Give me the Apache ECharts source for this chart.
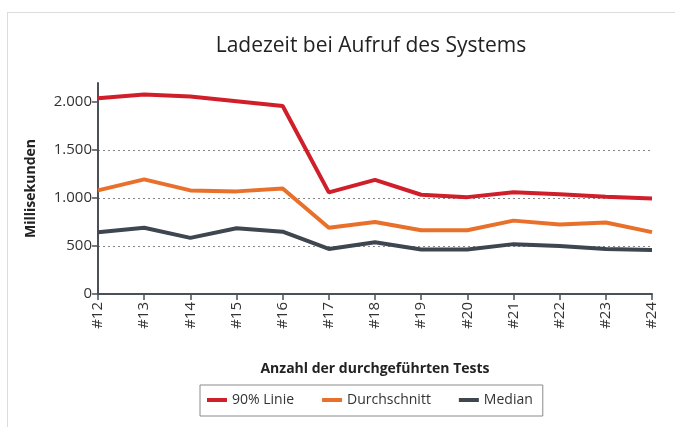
<!DOCTYPE html>
<html>
<head>
<meta charset="utf-8">
<script src="https://cdn.jsdelivr.net/npm/echarts@6/dist/echarts.min.js"></script>
<style>
html,body{margin:0;padding:0;background:#fff;}
#frame{position:absolute;left:7px;top:12px;width:700px;height:440px;border-left:1.5px solid #dcdcdc;border-top:1.5px solid #dcdcdc;}
#chart{position:absolute;left:0;top:0;width:675px;height:427px;}
</style>
</head>
<body>
<div id="frame"></div>
<div id="chart"></div>
<script>
const categories = ['#12','#13','#14','#15','#16','#17','#18','#19','#20','#21','#22','#23','#24'];
const linie90 = [2040, 2080, 2060, 2010, 1960, 1060, 1190, 1035, 1010, 1060, 1040, 1015, 995];
const durchschnitt = [1080, 1195, 1080, 1070, 1100, 690, 750, 665, 665, 765, 725, 745, 645];
const median = [645, 690, 585, 685, 650, 470, 540, 465, 465, 520, 500, 470, 460];
const yTicks = [0, 500, 1000, 1500, 2000];

const FONT = '"Open Sans", "Noto Sans", sans-serif';
const chart = echarts.init(document.getElementById('chart'), null, {renderer: 'canvas'});
const lineStyle = (c) => ({color: c, width: 4});
chart.setOption({
  backgroundColor: 'transparent',
  animation: false,
  textStyle: {fontFamily: FONT},
  title: {
    text: 'Ladezeit bei Aufruf des Systems',
    left: 366, top: 31, textAlign: 'center',
    textStyle: {fontFamily: FONT, fontSize: 21, fontWeight: 'normal', color: '#222'}
  },
  grid: {left: 98, right: 23, top: 83, bottom: 133, containLabel: false},
  legend: {
    left: 200, top: 385,
    data: ['90% Linie', 'Durchschnitt', 'Median'],
    icon: 'rect', itemWidth: 20, itemHeight: 4, itemGap: 28,
    padding: [8, 10, 9, 7],
    borderColor: '#8a8a8a', borderWidth: 1,
    textStyle: {fontFamily: FONT, fontSize: 14, color: '#333'}
  },
  xAxis: {
    type: 'category', data: categories, boundaryGap: false,
    name: 'Anzahl der durchgeführten Tests', nameLocation: 'middle', nameGap: 68,
    nameTextStyle: {fontFamily: FONT, fontSize: 14, fontWeight: 'bold', color: '#222'},
    axisLine: {lineStyle: {color: '#4a5058', width: 2}},
    axisTick: {show: true, length: 6, lineStyle: {color: '#4a5058', width: 1.5}},
    axisLabel: {rotate: 90, fontSize: 15, color: '#333', margin: 8, fontFamily: FONT},
    splitLine: {show: false}
  },
  yAxis: {
    type: 'value', min: 0, max: 2200, interval: 500,
    name: 'Millisekunden', nameLocation: 'middle', nameGap: 60,
    nameTextStyle: {fontFamily: FONT, fontSize: 14, fontWeight: 'bold', color: '#222'},
    axisLine: {show: true, lineStyle: {color: '#4a5058', width: 2}},
    axisTick: {show: true, length: 6, customValues: yTicks, lineStyle: {color: '#4a5058', width: 1.5}},
    axisLabel: {
      fontSize: 15, color: '#333', margin: 6, fontFamily: FONT, customValues: yTicks,
      formatter: v => v >= 1000 ? (Math.floor(v/1000) + '.' + String(v%1000).padStart(3,'0')) : String(v)
    },
    splitLine: {show: true, showMinLine: false, showMaxLine: false, lineStyle: {color: '#888', type: [2, 3], width: 1.2}}
  },
  series: [
    {name: '90% Linie', type: 'line', data: linie90, symbol: 'none', lineStyle: lineStyle('#d01f2a'), itemStyle: {color: '#d01f2a'}},
    {name: 'Durchschnitt', type: 'line', data: durchschnitt, symbol: 'none', lineStyle: lineStyle('#e8702a'), itemStyle: {color: '#e8702a'}},
    {name: 'Median', type: 'line', data: median, symbol: 'none', lineStyle: lineStyle('#3e4650'), itemStyle: {color: '#3e4650'}}
  ]
});
</script>
</body>
</html>
